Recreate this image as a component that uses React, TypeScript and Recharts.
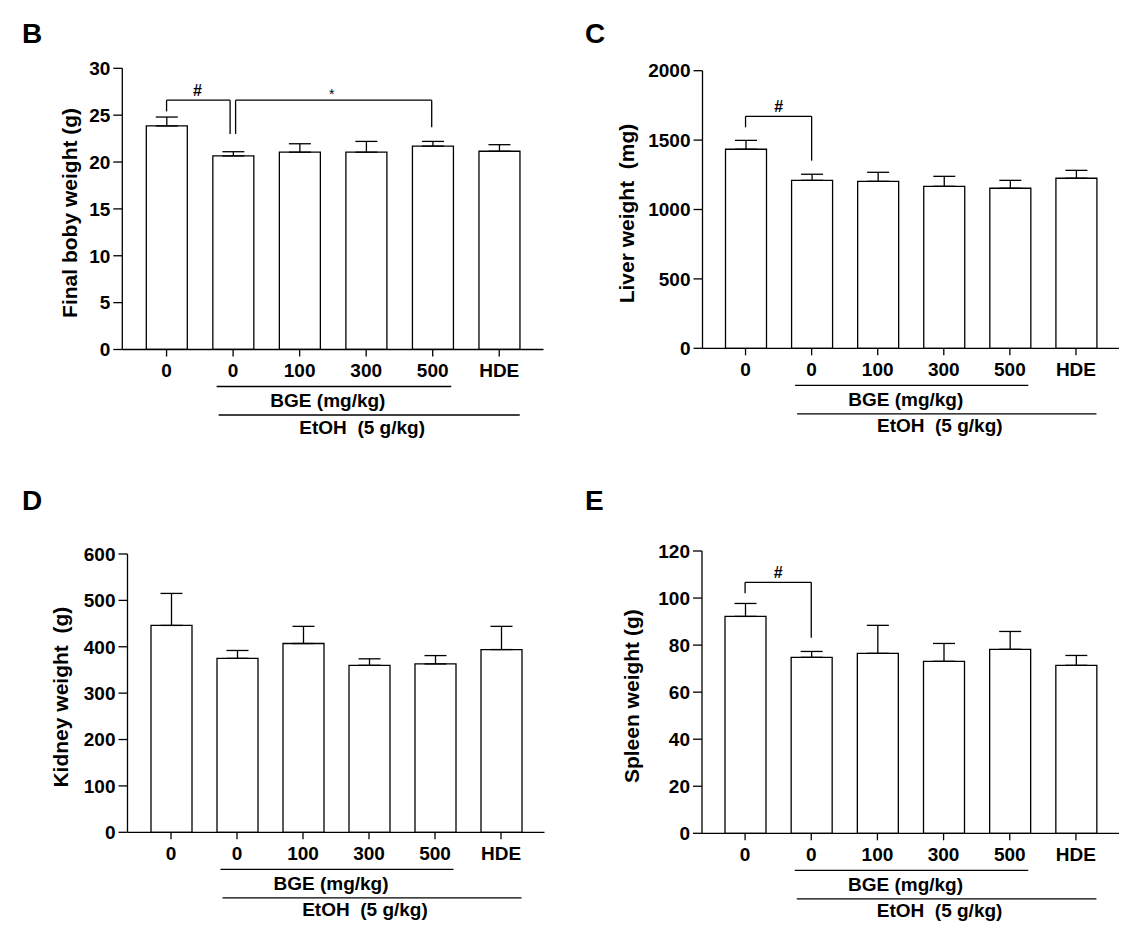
import React from 'react';
import { BarChart, Bar, XAxis, YAxis, ErrorBar, ReferenceLine } from 'recharts';

const FONT = '"Liberation Sans", Arial, Helvetica, sans-serif';

// ---------- data ----------
const groupIds = ['veh', 'etoh', 'bge100', 'bge300', 'bge500', 'hde'];
const groupLabels = ['0', '0', '100', '300', '500', 'HDE'];

const bodyMean = [23.85, 20.65, 21.05, 21.05, 21.7, 21.15];
const bodySem = [0.95, 0.45, 0.9, 1.15, 0.5, 0.7];
const bodyTicks = [0, 5, 10, 15, 20, 25, 30];

const liverMean = [1434, 1210, 1203, 1167, 1153, 1225];
const liverSem = [64, 44, 65, 72, 57, 57];
const liverTicks = [0, 500, 1000, 1500, 2000];

const kidneyMean = [446, 375, 407, 360, 363, 394];
const kidneySem = [69, 17, 37, 14, 18, 50];
const kidneyTicks = [0, 100, 200, 300, 400, 500, 600];

const spleenMean = [92.2, 74.8, 76.5, 73.1, 78.2, 71.4];
const spleenSem = [5.5, 2.5, 11.9, 7.6, 7.6, 4.2];
const spleenTicks = [0, 20, 40, 60, 80, 100, 120];

// significance brackets (in data units)
const bodyBrackets = [
  { from: 0, to: 1, y: 26.6, fromEnd: 25.4, toEnd: 23.0, mark: '#' },
  { from: 1, to: 4, y: 26.6, fromEnd: 23.0, toEnd: 23.7, mark: '*' },
];
const liverBrackets = [{ from: 0, to: 1, y: 1671, fromEnd: 1592, toEnd: 1352, mark: '#' }];
const kidneyBrackets: typeof liverBrackets = [];
const spleenBrackets = [{ from: 0, to: 1, y: 106.7, fromEnd: 102, toEnd: 83.1, mark: '#' }];

const groupCaption1 = 'BGE (mg/kg)';
const groupCaption2 = 'EtOH  (5 g/kg)';

// ---------- layout ----------
const PW = 563;
const PH = 467;
const XH = 30;

type Cfg = {
  letter: string;
  yLabel: string;
  x: number;
  y: number;
  axisX: number;
  top: number;
  right: number;
  bottom: number;
  pad: number;
  labelDx: number;
  nudges: { fromDx: number; toDx: number; markDx: number }[];
};

const cfgB: Cfg = {
  letter: 'B', yLabel: 'Final boby weight (g)', x: 0, y: 0, axisX: 122.3, top: 68.3, right: 543.5, bottom: 349.5, pad: 11, labelDx: -45,
  nudges: [{ fromDx: 0, toDx: -3, markDx: -1 }, { fromDx: 2.5, toDx: -1, markDx: -2 }],
};
const cfgC: Cfg = {
  letter: 'C', yLabel: 'Liver weight  (mg)', x: PW, y: 0, axisX: 702.5, top: 70.7, right: 1119, bottom: 348.3, pad: 10, labelDx: -68.5,
  nudges: [{ fromDx: 0, toDx: 0, markDx: 0 }],
};
const cfgD: Cfg = {
  letter: 'D', yLabel: 'Kidney weight  (g)', x: 0, y: PH, axisX: 127.5, top: 554, right: 544.5, bottom: 832.3, pad: 10.5, labelDx: -59.5,
  nudges: [],
};
const cfgE: Cfg = {
  letter: 'E', yLabel: 'Spleen weight (g)', x: PW, y: PH, axisX: 702, top: 551, right: 1119, bottom: 833.3, pad: 10, labelDx: -63.5,
  nudges: [{ fromDx: 0, toDx: 0, markDx: 0 }],
};

const STROKE = 1.3;
const TICK_FONT = 19;

function centers(c: Cfg) {
  const n = groupIds.length;
  const band = (c.right - c.axisX - 2 * c.pad) / n;
  return groupIds.map((_, i) => c.axisX + c.pad + band * (i + 0.5));
}

function Panel({ cfg, mean, sem, ticks, brackets }: {
  cfg: Cfg; mean: number[]; sem: number[]; ticks: number[]; brackets: typeof bodyBrackets;
}) {
  const data = groupIds.map((id, i) => ({ id, mean: mean[i], err: [0, sem[i]] }));
  const margin = {
    top: cfg.top - cfg.y,
    right: cfg.x + PW - cfg.right,
    bottom: cfg.y + PH - cfg.bottom - XH,
    left: 0,
  };
  const tickStyle = { fill: '#000', fontSize: TICK_FONT, fontWeight: 700, fontFamily: FONT };
  return (
    <div style={{ position: 'absolute', left: cfg.x, top: cfg.y, width: PW, height: PH }}>
      <BarChart width={PW} height={PH} data={data} margin={margin}>
        <XAxis
          dataKey="id"
          height={XH}
          interval={0}
          padding={{ left: cfg.pad, right: cfg.pad }}
          tickFormatter={(v: string) => groupLabels[groupIds.indexOf(v)]}
          tickSize={7}
          tickMargin={7}
          axisLine={{ stroke: '#000', strokeWidth: STROKE }}
          tickLine={{ stroke: '#000', strokeWidth: STROKE }}
          tick={tickStyle}
        />
        <YAxis
          type="number"
          domain={[ticks[0], ticks[ticks.length - 1]]}
          ticks={ticks}
          interval={0}
          width={cfg.axisX - cfg.x}
          tickSize={9}
          tickMargin={3}
          axisLine={{ stroke: '#000', strokeWidth: STROKE }}
          tickLine={{ stroke: '#000', strokeWidth: STROKE }}
          tick={tickStyle}
          allowDataOverflow
        />
        <Bar dataKey="mean" fill="#fff" stroke="#000" strokeWidth={STROKE} barSize={41} isAnimationActive={false}>
          <ErrorBar dataKey="err" width={11} stroke="#000" strokeWidth={STROKE} direction="y" isAnimationActive={false} />
        </Bar>
        {brackets.map((b, k) => {
          const n = cfg.nudges[k] || { fromDx: 0, toDx: 0, markDx: 0 };
          const isStar = b.mark === '*';
          return (
            <React.Fragment key={k}>
              <ReferenceLine
                ifOverflow="visible"
                segment={[{ x: groupIds[b.from], y: b.y }, { x: groupIds[b.to], y: b.y }]}
                shape={(p: any) => (
                  <g>
                    <line x1={p.x1 + n.fromDx} y1={p.y1} x2={p.x2 + n.toDx} y2={p.y2} stroke="#000" strokeWidth={STROKE} />
                    <text
                      x={(p.x1 + n.fromDx + p.x2 + n.toDx) / 2 + n.markDx}
                      y={p.y1 - (isStar ? 1.5 : 4.5)}
                      textAnchor="middle"
                      fontFamily={FONT}
                      fontWeight={isStar ? 400 : 700}
                      fontSize={isStar ? 14 : 16}
                      fill="#000"
                    >
                      {b.mark}
                    </text>
                  </g>
                )}
              />
              <ReferenceLine
                ifOverflow="visible"
                segment={[{ x: groupIds[b.from], y: b.y }, { x: groupIds[b.from], y: b.fromEnd }]}
                shape={(p: any) => (
                  <line x1={p.x1 + n.fromDx} y1={p.y1} x2={p.x2 + n.fromDx} y2={p.y2} stroke="#000" strokeWidth={STROKE} />
                )}
              />
              <ReferenceLine
                ifOverflow="visible"
                segment={[{ x: groupIds[b.to], y: b.y }, { x: groupIds[b.to], y: b.toEnd }]}
                shape={(p: any) => (
                  <line x1={p.x1 + n.toDx} y1={p.y1} x2={p.x2 + n.toDx} y2={p.y2} stroke="#000" strokeWidth={STROKE} />
                )}
              />
            </React.Fragment>
          );
        })}
      </BarChart>
    </div>
  );
}

function Annotations({ cfg }: { cfg: Cfg }) {
  const c = centers(cfg);
  const b = cfg.bottom;
  const txt = { fontFamily: FONT, fontWeight: 700, fontSize: 19, fill: '#000' } as const;
  return (
    <g>
      <text x={cfg.x + 22} y={cfg.y + 43} fontFamily={FONT} fontWeight={700} fontSize={28} fill="#000">
        {cfg.letter}
      </text>
      <text
        transform={`translate(${cfg.axisX + cfg.labelDx},${(cfg.top + cfg.bottom) / 2 + 4}) rotate(-90)`}
        textAnchor="middle"
        fontFamily={FONT}
        fontWeight={700}
        fontSize={21}
        fill="#000"
        style={{ whiteSpace: 'pre' }}
      >
        {cfg.yLabel}
      </text>
      <line x1={c[1] - 16.5} x2={c[4] + 18.5} y1={b + 37} y2={b + 37} stroke="#000" strokeWidth={STROKE} />
      <text x={(c[1] + c[4]) / 2 - 5} y={b + 57.5} textAnchor="middle" {...txt} style={{ whiteSpace: 'pre' }}>
        {groupCaption1}
      </text>
      <line x1={c[1] - 14.5} x2={c[5] + 20.5} y1={b + 65.5} y2={b + 65.5} stroke="#000" strokeWidth={STROKE} />
      <text x={(c[1] + c[5]) / 2 - 4} y={b + 84} textAnchor="middle" {...txt} style={{ whiteSpace: 'pre' }}>
        {groupCaption2}
      </text>
    </g>
  );
}

export default function App() {
  return (
    <div style={{ position: 'absolute', left: 0, top: 0, width: 1126, height: 934, background: '#fff', overflow: 'hidden' }}>
      <Panel cfg={cfgB} mean={bodyMean} sem={bodySem} ticks={bodyTicks} brackets={bodyBrackets} />
      <Panel cfg={cfgC} mean={liverMean} sem={liverSem} ticks={liverTicks} brackets={liverBrackets} />
      <Panel cfg={cfgD} mean={kidneyMean} sem={kidneySem} ticks={kidneyTicks} brackets={kidneyBrackets} />
      <Panel cfg={cfgE} mean={spleenMean} sem={spleenSem} ticks={spleenTicks} brackets={spleenBrackets} />
      <svg width={1126} height={934} style={{ position: 'absolute', left: 0, top: 0, pointerEvents: 'none' }}>
        <Annotations cfg={cfgB} />
        <Annotations cfg={cfgC} />
        <Annotations cfg={cfgD} />
        <Annotations cfg={cfgE} />
      </svg>
    </div>
  );
}
